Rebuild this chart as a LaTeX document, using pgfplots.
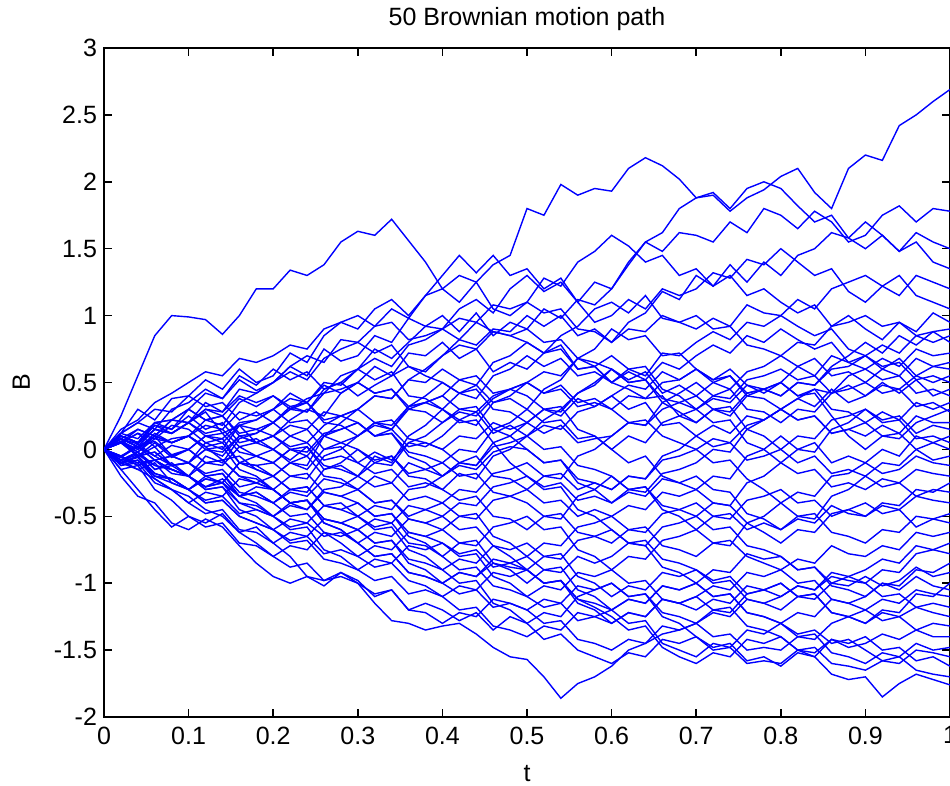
\documentclass[border=0pt]{standalone}
\usepackage{pgfplots}
\usepackage{pgfplotstable}
\pgfplotsset{compat=1.18}
\usepackage{fontspec}
\setmainfont{Liberation Sans}

\pgfplotstableread{
name c0 c1 c2 c3 c4 c5 c6 c7 c8 c9 c10 c11 c12 c13 c14 c15 c16 c17 c18 c19 c20 c21 c22 c23 c24 c25 c26 c27 c28 c29 c30 c31 c32 c33 c34 c35 c36 c37 c38 c39 c40 c41 c42 c43 c44 c45 c46 c47 c48 c49 c50
t 0 0.02 0.04 0.06 0.08 0.1 0.12 0.14 0.16 0.18 0.2 0.22 0.24 0.26 0.28 0.3 0.32 0.34 0.36 0.38 0.4 0.42 0.44 0.46 0.48 0.5 0.52 0.54 0.56 0.58 0.6 0.62 0.64 0.66 0.68 0.7 0.72 0.74 0.76 0.78 0.8 0.82 0.84 0.86 0.88 0.9 0.92 0.94 0.96 0.98 1
p1 0 0.25 0.55 0.85 1.0 0.99 0.97 0.86 1.0 1.2 1.2 1.34 1.3 1.38 1.55 1.63 1.6 1.72 1.56 1.4 1.2 1.3 1.25 1.38 1.45 1.8 1.75 1.98 1.9 1.95 1.93 2.1 2.18 2.12 2.02 1.88 1.9 1.78 1.88 1.94 2.04 2.1 1.92 1.8 2.1 2.2 2.16 2.42 2.5 2.6 2.69
p2 0 0.12 0.3 0.22 0.38 0.4 0.52 0.45 0.6 0.5 0.55 0.72 0.65 0.85 0.95 0.9 1.05 1.12 1.0 1.15 1.3 1.45 1.32 1.45 1.3 1.35 1.2 1.28 1.1 1.25 1.2 1.38 1.55 1.48 1.62 1.6 1.55 1.7 1.62 1.8 1.75 1.65 1.78 1.7 1.55 1.6 1.75 1.82 1.7 1.8 1.78
p3 0 0.1 0.05 0.18 0.12 0.2 0.35 0.28 0.45 0.42 0.5 0.62 0.55 0.75 0.66 0.7 0.85 0.8 0.98 0.92 1.0 0.88 1.02 0.85 0.95 0.9 1.05 0.98 1.12 1.08 1.2 1.4 1.55 1.62 1.8 1.88 1.92 1.8 1.95 2.0 1.95 1.82 1.7 1.75 1.58 1.5 1.6 1.48 1.62 1.55 1.5
p4 0 0.12 0.2 0.15 0.3 0.35 0.45 0.38 0.52 0.44 0.5 0.62 0.7 0.65 0.82 0.8 0.92 1.05 0.98 1.15 1.2 1.1 1.25 1.05 1.0 1.1 1.28 1.22 1.4 1.48 1.6 1.52 1.4 1.45 1.3 1.35 1.22 1.38 1.25 1.4 1.3 1.45 1.5 1.62 1.58 1.7 1.6 1.48 1.55 1.4 1.35
p5 0 0.08 -0.05 0.02 -0.12 -0.1 0.05 0.0 0.18 0.22 0.3 0.42 0.35 0.5 0.48 0.6 0.75 0.68 0.8 0.92 0.9 1.05 1.12 1.02 1.2 1.3 1.18 1.25 1.1 0.95 1.0 1.12 1.05 1.2 1.15 1.2 1.32 1.28 1.42 1.38 1.5 1.4 1.3 1.35 1.18 1.1 1.22 1.15 1.3 1.25 1.2
p6 0 0.05 0.15 0.1 0.22 0.2 0.28 0.12 0.18 0.05 0.1 0.22 0.3 0.25 0.42 0.5 0.62 0.55 0.72 0.7 0.8 0.68 0.75 0.58 0.65 0.6 0.72 0.85 0.92 1.05 1.1 1.02 1.15 0.98 0.95 0.9 0.98 0.92 1.08 1.02 1.0 1.12 1.05 1.2 1.25 1.3 1.22 1.3 1.15 1.1 1.05
p7 0 0.1 0.05 0.2 0.15 0.3 0.42 0.38 0.55 0.48 0.6 0.52 0.58 0.45 0.5 0.4 0.48 0.55 0.62 0.58 0.7 0.82 0.78 0.9 0.88 1.0 0.92 1.0 0.85 0.9 0.8 0.95 1.02 1.18 1.12 1.3 1.22 1.3 1.15 1.2 1.1 1.02 1.08 0.92 1.0 0.9 0.82 0.95 0.88 1.02 0.95
p8 0 -0.1 -0.02 -0.15 -0.1 -0.2 -0.05 -0.1 0.08 0.12 0.2 0.32 0.28 0.45 0.5 0.6 0.52 0.58 0.4 0.38 0.3 0.42 0.38 0.55 0.6 0.7 0.62 0.68 0.55 0.58 0.5 0.6 0.55 0.72 0.7 0.8 0.88 0.82 0.95 0.92 1.0 0.92 0.85 0.9 0.75 0.7 0.78 0.72 0.85 0.8 0.85
p9 0 0.06 0.0 0.12 0.05 0.1 0.02 -0.08 -0.05 -0.15 -0.2 -0.1 -0.15 0.0 0.05 0.1 0.18 0.15 0.32 0.4 0.5 0.42 0.48 0.35 0.38 0.3 0.45 0.52 0.68 0.75 0.9 0.82 0.85 0.7 0.72 0.6 0.52 0.6 0.48 0.45 0.4 0.5 0.48 0.62 0.7 0.8 0.72 0.85 0.78 0.88 0.8
p10 0 0.12 0.2 0.3 0.28 0.4 0.32 0.35 0.22 0.28 0.2 0.3 0.38 0.42 0.55 0.6 0.68 0.62 0.78 0.82 0.9 0.82 0.95 0.88 0.85 0.8 0.72 0.78 0.6 0.62 0.5 0.58 0.52 0.65 0.6 0.7 0.78 0.72 0.85 0.8 0.9 0.82 0.75 0.8 0.65 0.6 0.68 0.62 0.75 0.7 0.72
p11 0 -0.08 -0.15 -0.1 -0.25 -0.3 -0.2 -0.25 -0.1 -0.05 0.0 -0.08 0.02 -0.15 -0.12 -0.2 -0.05 -0.1 0.1 0.18 0.3 0.22 0.28 0.12 0.18 0.1 0.22 0.3 0.42 0.48 0.6 0.52 0.58 0.42 0.48 0.4 0.5 0.45 0.58 0.62 0.7 0.62 0.68 0.55 0.58 0.5 0.6 0.55 0.68 0.62 0.65
p12 0 0.1 0.05 0.15 0.12 0.2 0.3 0.25 0.38 0.32 0.4 0.3 0.35 0.2 0.18 0.1 0.2 0.15 0.3 0.35 0.4 0.52 0.48 0.65 0.7 0.8 0.72 0.75 0.6 0.62 0.5 0.45 0.38 0.4 0.25 0.2 0.3 0.25 0.4 0.45 0.5 0.62 0.55 0.7 0.65 0.7 0.6 0.68 0.55 0.62 0.6
p13 0 0.08 -0.05 0.05 -0.06 0.0 0.1 0.08 0.2 0.22 0.3 0.38 0.35 0.48 0.42 0.5 0.42 0.45 0.3 0.28 0.2 0.3 0.28 0.4 0.45 0.5 0.42 0.48 0.35 0.38 0.3 0.4 0.38 0.5 0.52 0.6 0.5 0.55 0.4 0.38 0.3 0.38 0.32 0.45 0.35 0.4 0.48 0.45 0.55 0.5 0.55
p14 0 -0.05 -0.12 -0.08 -0.18 -0.2 -0.28 -0.22 -0.35 -0.32 -0.4 -0.3 -0.32 -0.15 -0.1 0.0 -0.1 -0.05 -0.2 -0.22 -0.3 -0.18 -0.22 -0.05 0.0 0.1 0.18 0.15 0.28 0.32 0.4 0.48 0.45 0.58 0.52 0.6 0.52 0.55 0.42 0.45 0.4 0.5 0.48 0.6 0.62 0.7 0.62 0.65 0.52 0.55 0.5
p15 0 0.1 0.05 0.2 0.22 0.3 0.22 0.25 0.1 0.05 0.0 0.1 0.05 0.18 0.25 0.3 0.4 0.38 0.52 0.5 0.6 0.52 0.55 0.42 0.45 0.4 0.3 0.32 0.15 0.1 0.0 0.1 0.05 0.2 0.25 0.3 0.4 0.38 0.52 0.55 0.6 0.52 0.55 0.42 0.48 0.4 0.5 0.42 0.52 0.4 0.45
p16 0 0.05 0.12 0.02 0.08 0.1 0.22 0.18 0.35 0.42 0.5 0.58 0.52 0.68 0.75 0.8 0.72 0.78 0.62 0.55 0.5 0.42 0.45 0.3 0.28 0.2 0.3 0.25 0.38 0.32 0.4 0.3 0.35 0.18 0.2 0.1 0.18 0.12 0.25 0.22 0.3 0.38 0.45 0.42 0.55 0.6 0.52 0.55 0.42 0.45 0.4
p17 0 0.05 -0.05 -0.02 -0.12 -0.1 0.0 -0.05 0.1 0.12 0.2 0.1 0.15 0.0 0.02 -0.1 -0.02 -0.08 0.05 0.02 0.1 0.22 0.18 0.35 0.4 0.5 0.58 0.55 0.68 0.62 0.7 0.6 0.62 0.45 0.4 0.3 0.38 0.35 0.48 0.42 0.5 0.4 0.45 0.3 0.28 0.2 0.28 0.22 0.35 0.3 0.35
p18 0 0.08 0.15 0.1 0.22 0.2 0.12 0.15 0.02 -0.05 -0.1 0.0 -0.05 0.1 0.15 0.2 0.1 0.15 0.02 0.05 0.0 -0.1 -0.05 -0.2 -0.22 -0.3 -0.2 -0.22 -0.05 0.0 0.1 0.2 0.18 0.35 0.42 0.5 0.4 0.45 0.3 0.28 0.2 0.3 0.28 0.42 0.45 0.5 0.42 0.45 0.32 0.35 0.28
p19 0 -0.1 -0.05 -0.2 -0.22 -0.3 -0.38 -0.35 -0.48 -0.45 -0.5 -0.4 -0.45 -0.3 -0.28 -0.2 -0.1 -0.12 0.05 0.1 0.2 0.28 0.25 0.38 0.45 0.5 0.42 0.45 0.32 0.35 0.3 0.2 0.22 0.1 0.05 0.0 0.08 0.05 0.18 0.22 0.3 0.22 0.25 0.12 0.15 0.1 0.18 0.12 0.25 0.2 0.2
p20 0 0.06 -0.02 0.1 0.05 0.1 0.18 0.15 0.28 0.25 0.3 0.2 0.22 0.1 0.05 0.0 -0.08 -0.05 -0.18 -0.15 -0.2 -0.1 -0.12 0.05 0.1 0.2 0.3 0.28 0.42 0.5 0.6 0.5 0.52 0.38 0.35 0.3 0.2 0.22 0.05 0.0 -0.1 0.0 -0.02 0.15 0.2 0.3 0.22 0.25 0.12 0.18 0.15
p21 0 0.1 0.05 0.18 0.15 0.25 0.15 0.2 0.05 0.08 0.0 -0.1 -0.05 -0.2 -0.22 -0.3 -0.2 -0.25 -0.1 -0.15 -0.1 0.0 -0.02 0.15 0.2 0.3 0.2 0.22 0.08 0.1 0.0 -0.1 -0.05 -0.2 -0.25 -0.3 -0.2 -0.22 -0.05 0.0 0.1 0.0 0.05 -0.1 -0.05 -0.1 0.0 -0.05 0.1 0.05 0.1
p22 0 -0.05 0.02 -0.08 -0.05 -0.1 -0.18 -0.15 -0.28 -0.25 -0.3 -0.2 -0.22 -0.05 0.0 0.1 0.2 0.18 0.32 0.35 0.4 0.3 0.32 0.15 0.1 0.0 -0.1 -0.08 -0.22 -0.25 -0.3 -0.2 -0.22 -0.05 0.0 0.1 0.02 0.05 -0.08 -0.05 0.0 0.1 0.08 0.22 0.25 0.3 0.2 0.22 0.08 0.1 0.05
p23 0 0.08 0.02 0.1 -0.05 0.0 0.1 0.05 0.18 0.15 0.2 0.3 0.28 0.42 0.45 0.5 0.42 0.45 0.32 0.35 0.3 0.2 0.22 0.05 -0.1 -0.2 -0.28 -0.25 -0.38 -0.35 -0.4 -0.3 -0.32 -0.18 -0.15 -0.1 0.0 -0.02 0.15 0.22 0.3 0.22 0.25 0.12 0.15 0.2 0.1 0.12 0.0 0.05 0.0
p24 0 -0.08 -0.02 -0.15 -0.12 -0.2 -0.1 -0.12 0.02 0.05 0.1 0.18 0.15 0.28 0.25 0.3 0.2 0.22 0.08 0.05 0.0 0.1 0.08 0.2 0.15 0.2 0.12 0.18 0.05 0.08 0.1 0.2 0.18 0.3 0.35 0.4 0.3 0.32 0.15 0.1 0.0 -0.1 -0.05 -0.18 -0.15 -0.2 -0.1 -0.12 0.0 -0.08 -0.05
p25 0 0.12 0.08 0.2 0.22 0.3 0.22 0.25 0.12 0.15 0.1 0.0 0.02 -0.12 -0.15 -0.2 -0.28 -0.25 -0.38 -0.35 -0.4 -0.3 -0.32 -0.18 -0.15 -0.1 -0.2 -0.18 -0.3 -0.25 -0.3 -0.2 -0.22 -0.08 -0.05 0.0 -0.1 -0.08 -0.22 -0.3 -0.4 -0.32 -0.35 -0.2 -0.18 -0.1 -0.18 -0.15 -0.05 -0.1 -0.12
p26 0 -0.06 0.02 -0.05 -0.12 -0.1 0.0 -0.02 0.1 0.05 0.1 0.02 0.05 -0.08 -0.05 -0.1 -0.18 -0.15 -0.28 -0.25 -0.3 -0.38 -0.35 -0.5 -0.52 -0.6 -0.5 -0.52 -0.35 -0.3 -0.2 -0.3 -0.28 -0.42 -0.45 -0.5 -0.4 -0.42 -0.25 -0.2 -0.1 -0.18 -0.15 -0.28 -0.25 -0.3 -0.22 -0.25 -0.15 -0.18 -0.2
p27 0 0.05 -0.02 0.08 0.05 0.1 0.02 0.05 -0.1 -0.12 -0.2 -0.3 -0.28 -0.42 -0.4 -0.5 -0.42 -0.45 -0.3 -0.28 -0.2 -0.1 -0.12 0.02 0.05 0.1 0.0 0.02 -0.12 -0.15 -0.2 -0.3 -0.28 -0.45 -0.5 -0.6 -0.5 -0.52 -0.38 -0.35 -0.3 -0.4 -0.38 -0.5 -0.45 -0.5 -0.4 -0.42 -0.3 -0.32 -0.25
p28 0 -0.1 -0.05 -0.18 -0.22 -0.3 -0.22 -0.25 -0.1 -0.12 -0.1 0.0 -0.02 0.12 0.15 0.2 0.1 0.12 -0.02 -0.05 -0.1 -0.2 -0.18 -0.32 -0.35 -0.4 -0.5 -0.48 -0.62 -0.65 -0.7 -0.6 -0.62 -0.48 -0.45 -0.4 -0.5 -0.48 -0.6 -0.55 -0.6 -0.5 -0.52 -0.35 -0.3 -0.2 -0.28 -0.25 -0.35 -0.3 -0.32
p29 0 0.08 0.02 0.15 0.12 0.2 0.3 0.28 0.4 0.35 0.4 0.32 0.35 0.22 0.25 0.2 0.1 0.12 -0.05 -0.1 -0.2 -0.12 -0.15 -0.02 0.02 0.0 -0.1 -0.08 -0.25 -0.3 -0.4 -0.32 -0.35 -0.22 -0.25 -0.2 -0.3 -0.32 -0.48 -0.52 -0.6 -0.52 -0.55 -0.42 -0.48 -0.5 -0.42 -0.45 -0.35 -0.38 -0.4
p30 0 -0.05 -0.12 -0.08 -0.15 -0.2 -0.28 -0.25 -0.4 -0.42 -0.5 -0.42 -0.45 -0.32 -0.35 -0.3 -0.4 -0.38 -0.52 -0.55 -0.6 -0.5 -0.52 -0.38 -0.35 -0.3 -0.4 -0.38 -0.5 -0.45 -0.5 -0.6 -0.58 -0.72 -0.75 -0.8 -0.7 -0.72 -0.55 -0.5 -0.4 -0.5 -0.48 -0.62 -0.65 -0.7 -0.6 -0.62 -0.5 -0.52 -0.48
p31 0 -0.06 0.04 -0.05 0.03 0.0 -0.1 -0.08 -0.2 -0.22 -0.3 -0.4 -0.38 -0.52 -0.55 -0.6 -0.52 -0.55 -0.42 -0.45 -0.4 -0.5 -0.48 -0.65 -0.7 -0.8 -0.7 -0.72 -0.58 -0.55 -0.5 -0.42 -0.45 -0.32 -0.35 -0.3 -0.4 -0.42 -0.55 -0.62 -0.7 -0.6 -0.62 -0.48 -0.45 -0.4 -0.48 -0.45 -0.58 -0.52 -0.55
p32 0 -0.12 -0.08 -0.22 -0.3 -0.4 -0.32 -0.35 -0.22 -0.25 -0.2 -0.3 -0.28 -0.42 -0.45 -0.5 -0.58 -0.55 -0.7 -0.72 -0.8 -0.7 -0.72 -0.58 -0.55 -0.5 -0.6 -0.58 -0.75 -0.8 -0.9 -0.8 -0.82 -0.68 -0.65 -0.6 -0.7 -0.68 -0.8 -0.85 -0.9 -0.82 -0.85 -0.72 -0.78 -0.8 -0.72 -0.75 -0.62 -0.65 -0.62
p33 0 0.08 0.04 0.15 0.12 0.2 0.1 0.12 -0.02 -0.05 -0.1 -0.2 -0.18 -0.32 -0.35 -0.4 -0.5 -0.48 -0.62 -0.65 -0.7 -0.78 -0.75 -0.88 -0.85 -0.9 -0.8 -0.82 -0.68 -0.65 -0.6 -0.7 -0.72 -0.88 -0.92 -1.0 -0.9 -0.92 -0.78 -0.82 -0.8 -0.9 -0.88 -1.0 -0.95 -1.0 -0.9 -0.92 -0.78 -0.75 -0.7
p34 0 -0.05 0.02 -0.08 -0.05 -0.1 -0.2 -0.18 -0.32 -0.35 -0.4 -0.32 -0.35 -0.22 -0.25 -0.3 -0.4 -0.38 -0.5 -0.45 -0.5 -0.4 -0.42 -0.28 -0.25 -0.2 -0.3 -0.28 -0.45 -0.5 -0.6 -0.7 -0.68 -0.82 -0.85 -0.9 -0.98 -0.95 -1.08 -1.05 -1.1 -1.02 -1.05 -0.92 -0.95 -0.9 -0.82 -0.85 -0.72 -0.75 -0.78
p35 0 -0.1 -0.06 -0.2 -0.22 -0.3 -0.4 -0.38 -0.5 -0.55 -0.6 -0.68 -0.65 -0.78 -0.75 -0.8 -0.72 -0.75 -0.62 -0.65 -0.6 -0.7 -0.68 -0.85 -0.9 -1.0 -0.9 -0.92 -0.8 -0.85 -0.8 -0.7 -0.72 -0.58 -0.55 -0.5 -0.6 -0.58 -0.72 -0.75 -0.8 -0.9 -0.88 -1.02 -1.05 -1.1 -1.0 -1.02 -0.9 -0.92 -0.85
p36 0 0.06 0.0 0.1 0.05 0.1 0.0 0.02 -0.15 -0.2 -0.3 -0.4 -0.38 -0.52 -0.55 -0.6 -0.7 -0.68 -0.82 -0.85 -0.9 -0.82 -0.85 -0.72 -0.75 -0.7 -0.8 -0.78 -0.95 -1.0 -1.1 -1.02 -1.05 -0.92 -0.95 -0.9 -1.0 -0.98 -1.12 -1.15 -1.2 -1.1 -1.12 -1.0 -1.02 -0.95 -1.02 -0.98 -0.88 -0.95 -0.92
p37 0 -0.08 -0.02 -0.12 -0.15 -0.2 -0.3 -0.28 -0.45 -0.5 -0.6 -0.52 -0.55 -0.42 -0.45 -0.4 -0.5 -0.48 -0.65 -0.7 -0.8 -0.9 -0.88 -1.02 -1.05 -1.1 -1.02 -1.05 -0.92 -0.95 -0.9 -1.0 -0.98 -1.12 -1.15 -1.2 -1.12 -1.15 -1.02 -1.05 -1.0 -1.1 -1.08 -1.22 -1.25 -1.3 -1.2 -1.22 -1.08 -1.1 -1.0
p38 0 -0.1 -0.05 -0.18 -0.22 -0.3 -0.22 -0.25 -0.35 -0.28 -0.3 -0.4 -0.38 -0.55 -0.6 -0.7 -0.8 -0.78 -0.92 -0.95 -1.0 -0.92 -0.95 -0.82 -0.85 -0.8 -0.9 -0.88 -1.05 -1.1 -1.2 -1.12 -1.15 -1.02 -1.05 -1.0 -1.1 -1.08 -1.22 -1.25 -1.3 -1.22 -1.25 -1.12 -1.15 -1.1 -1.0 -1.05 -0.95 -1.02 -1.05
p39 0 0.05 -0.05 -0.02 -0.12 -0.1 -0.2 -0.18 -0.35 -0.4 -0.5 -0.6 -0.58 -0.75 -0.8 -0.9 -0.82 -0.85 -0.72 -0.75 -0.7 -0.8 -0.78 -0.95 -1.0 -1.1 -1.18 -1.15 -1.28 -1.25 -1.3 -1.22 -1.25 -1.12 -1.15 -1.1 -1.02 -1.05 -0.92 -0.95 -0.9 -1.0 -0.98 -1.12 -1.15 -1.2 -1.12 -1.15 -1.05 -1.08 -1.1
p40 0 -0.12 -0.1 -0.25 -0.3 -0.4 -0.48 -0.45 -0.6 -0.62 -0.7 -0.62 -0.65 -0.52 -0.55 -0.5 -0.6 -0.58 -0.75 -0.8 -0.9 -1.0 -0.98 -1.15 -1.2 -1.3 -1.22 -1.25 -1.1 -1.05 -1.0 -1.1 -1.08 -1.22 -1.25 -1.3 -1.22 -1.25 -1.12 -1.15 -1.1 -1.02 -1.05 -0.95 -0.98 -1.0 -1.1 -1.08 -1.18 -1.15 -1.18
p41 0 -0.15 -0.12 -0.3 -0.38 -0.5 -0.58 -0.55 -0.7 -0.72 -0.8 -0.88 -0.85 -0.98 -0.95 -1.0 -1.08 -1.05 -1.2 -1.22 -1.3 -1.22 -1.25 -1.12 -1.15 -1.2 -1.3 -1.28 -1.42 -1.45 -1.5 -1.42 -1.45 -1.32 -1.35 -1.3 -1.2 -1.22 -1.08 -1.05 -1.0 -1.1 -1.08 -1.22 -1.25 -1.3 -1.22 -1.25 -1.18 -1.22 -1.25
p42 0 -0.15 -0.3 -0.45 -0.58 -0.5 -0.55 -0.48 -0.62 -0.58 -0.7 -0.8 -0.95 -0.98 -0.92 -1.0 -1.15 -1.28 -1.3 -1.35 -1.32 -1.3 -1.38 -1.48 -1.55 -1.57 -1.7 -1.86 -1.75 -1.7 -1.62 -1.5 -1.45 -1.38 -1.35 -1.3 -1.4 -1.38 -1.5 -1.48 -1.5 -1.4 -1.42 -1.3 -1.25 -1.2 -1.28 -1.25 -1.35 -1.3 -1.32
p43 0 -0.2 -0.35 -0.4 -0.55 -0.6 -0.52 -0.58 -0.72 -0.85 -0.95 -1.0 -0.95 -1.02 -0.92 -0.98 -1.1 -1.05 -1.2 -1.15 -1.2 -1.28 -1.22 -1.35 -1.25 -1.3 -1.42 -1.38 -1.5 -1.55 -1.6 -1.52 -1.55 -1.42 -1.45 -1.4 -1.5 -1.48 -1.6 -1.58 -1.6 -1.5 -1.52 -1.42 -1.48 -1.45 -1.38 -1.42 -1.35 -1.4 -1.4
p44 0 -0.1 -0.08 -0.2 -0.25 -0.3 -0.4 -0.38 -0.5 -0.55 -0.6 -0.7 -0.68 -0.82 -0.85 -0.9 -0.98 -0.95 -1.08 -1.05 -1.1 -1.2 -1.18 -1.32 -1.35 -1.4 -1.32 -1.35 -1.22 -1.25 -1.2 -1.3 -1.28 -1.45 -1.5 -1.55 -1.45 -1.48 -1.35 -1.38 -1.3 -1.4 -1.38 -1.52 -1.55 -1.6 -1.52 -1.55 -1.45 -1.5 -1.48
p45 0 -0.06 -0.1 -0.08 -0.15 -0.2 -0.3 -0.28 -0.4 -0.45 -0.5 -0.58 -0.55 -0.65 -0.62 -0.7 -0.8 -0.78 -0.92 -0.95 -1.0 -0.92 -0.95 -0.85 -0.88 -0.9 -1.0 -0.98 -1.15 -1.2 -1.3 -1.22 -1.25 -1.12 -1.15 -1.1 -1.2 -1.18 -1.32 -1.35 -1.4 -1.5 -1.48 -1.6 -1.62 -1.65 -1.58 -1.6 -1.5 -1.52 -1.55
p46 0 -0.1 -0.15 -0.22 -0.3 -0.35 -0.45 -0.5 -0.62 -0.7 -0.8 -0.72 -0.75 -0.62 -0.65 -0.6 -0.7 -0.68 -0.85 -0.9 -1.0 -1.08 -1.05 -1.18 -1.15 -1.2 -1.12 -1.15 -1.02 -1.05 -1.0 -1.1 -1.08 -1.25 -1.3 -1.4 -1.48 -1.45 -1.58 -1.55 -1.62 -1.52 -1.55 -1.42 -1.45 -1.4 -1.5 -1.48 -1.58 -1.55 -1.62
p47 0 0.08 0.02 0.06 -0.04 0.0 -0.1 -0.08 -0.2 -0.25 -0.3 -0.4 -0.38 -0.55 -0.6 -0.7 -0.62 -0.65 -0.52 -0.55 -0.5 -0.6 -0.58 -0.72 -0.8 -0.9 -1.0 -0.98 -1.12 -1.15 -1.2 -1.12 -1.15 -1.02 -1.05 -1.0 -1.1 -1.08 -1.22 -1.25 -1.3 -1.38 -1.35 -1.45 -1.42 -1.5 -1.58 -1.55 -1.65 -1.68 -1.7
p48 0 -0.08 -0.04 -0.12 -0.15 -0.2 -0.28 -0.25 -0.35 -0.32 -0.4 -0.5 -0.48 -0.62 -0.7 -0.8 -0.88 -0.85 -0.98 -1.02 -1.1 -1.02 -1.05 -0.92 -0.95 -0.9 -1.0 -0.98 -1.12 -1.18 -1.25 -1.35 -1.32 -1.48 -1.55 -1.6 -1.52 -1.55 -1.42 -1.45 -1.4 -1.5 -1.55 -1.68 -1.72 -1.7 -1.85 -1.75 -1.68 -1.72 -1.76
p49 0 0.15 0.22 0.35 0.42 0.5 0.58 0.55 0.68 0.65 0.7 0.78 0.75 0.9 0.95 1.0 0.92 0.95 0.82 0.85 0.9 0.98 0.95 1.08 1.05 1.1 1.02 1.05 0.9 0.88 0.8 0.9 0.88 1.0 0.95 1.0 0.9 0.92 0.78 0.75 0.7 0.8 0.78 0.92 0.95 1.0 0.92 0.95 0.85 0.88 0.9
p50 0 0.05 0.12 0.08 0.18 0.15 0.05 0.08 -0.1 -0.15 -0.2 -0.1 -0.12 0.1 0.2 0.3 0.4 0.38 0.52 0.6 0.7 0.78 0.75 0.88 0.85 0.9 0.8 0.82 0.68 0.65 0.6 0.5 0.52 0.35 0.28 0.2 0.3 0.28 0.42 0.45 0.5 0.4 0.42 0.25 0.1 0.0 0.1 0.08 0.2 0.25 0.3
}\raw
\pgfplotstabletranspose[colnames from=name]{\paths}{\raw}

\begin{document}
\begin{tikzpicture}
\begin{axis}[
  scale only axis,
  width=423pt, height=334.5pt,
  xmin=0, xmax=1, ymin=-2, ymax=3,
  xtick={0,0.1,0.2,0.3,0.4,0.5,0.6,0.7,0.8,0.9,1},
  ytick={-2,-1.5,-1,-0.5,0,0.5,1,1.5,2,2.5,3},
  tick align=inside,
  xtick pos=both, ytick pos=both,
  xticklabel pos=left, yticklabel pos=left,
  major tick length=4pt,
  axis line style={line width=0.8pt, black},
  every tick/.style={line width=0.8pt, black},
  /pgf/number format/assume math mode=true,
  tick label style={font=\fontsize{12.5}{15}\selectfont, black},
  xticklabel style={yshift=-1.3pt},
  title={50 Brownian motion path},
  title style={font=\fontsize{12.5}{15}\selectfont, at={(axis description cs:0.5,1.033)}, anchor=base, yshift=-6pt},
  xlabel={t},
  xlabel style={font=\fontsize{12.5}{15}\selectfont, at={(axis description cs:0.5,-0.0957)}, anchor=base},
  ylabel={B},
  ylabel style={font=\fontsize{12.5}{15}\selectfont, at={(axis description cs:-0.0875,0.5)}, anchor=base, rotate=0},
]
\pgfplotsinvokeforeach{1,...,50}{
  \addplot[color=blue, line width=0.7pt] table[x=t, y=p#1] {\paths};
}
\end{axis}
\pgfresetboundingbox
\path ([shift={(-52pt,-34pt)}]current axis.south west) rectangle ([shift={(0pt,24pt)}]current axis.north east);
\end{tikzpicture}
\end{document}
